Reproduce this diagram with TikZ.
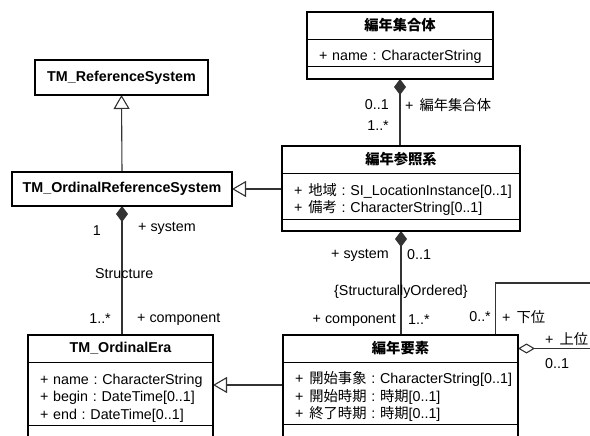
\documentclass[tikz,border=0pt]{standalone}
\usepackage{fontspec}
\setmainfont{Liberation Sans}
\newfontfamily\jpfont{Noto Sans CJK JP}
\usepackage{tikz}
\usetikzlibrary{arrows.meta,positioning}

\frenchspacing
\newcommand{\umlsize}{\fontsize{14.3}{17.5}\selectfont}
\newcommand{\jp}[1]{{\jpfont #1}}
\newcommand{\pj}{+\hspace{6pt}}
\newcommand{\attr}[1]{\mbox{#1}}

\tikzset{
  box/.style={draw, line width=0.9pt, outer sep=0pt, inner sep=0pt, font=\umlsize},
  headbox/.style={box, font=\umlsize\bfseries, align=center},
  attrbox/.style={box, align=left, inner xsep=12pt, execute at begin node={\rule{0pt}{19pt}}},
  clsframe/.style={line width=2.2pt},
  lbl/.style={inner sep=0pt, font=\umlsize},
  con/.style={line width=1.1pt, black!80},
  comp/.style={con, {Diamond[length=16pt,width=12pt]}-},
  gen/.style={con, -{Triangle[open,length=14pt,width=16pt,fill=white]}},
  agg/.style={con, -{Diamond[open,length=17pt,width=10pt,fill=white]}}
}

\begin{document}
\begin{tikzpicture}[x=1pt, y=-1pt]
    \clip (0,0) rectangle (590,436);

    % 編年集合体
    \node[headbox, anchor=north west, minimum width=186pt, minimum height=27pt] (shugo) at (307,12) {\jp{編年集合体}};
    \node[attrbox, below=0pt of shugo, text width=162pt, minimum height=27pt] (shugo-a) {\attr{+ name : CharacterString}};
    \node[box, below=0pt of shugo-a, minimum width=186pt, minimum height=13pt] (shugo-o) {};

    % reference systems
    \node[headbox, anchor=north west, minimum width=173pt, minimum height=35pt] (refsys) at (35,60) {TM\_ReferenceSystem};
    \node[headbox, anchor=north west, minimum width=220pt, minimum height=34pt] (ordref) at (12,172) {TM\_OrdinalReferenceSystem};

    % 編年参照系
    \node[headbox, anchor=north west, minimum width=238pt, minimum height=27pt] (sansho) at (282,146) {\jp{編年参照系}};
    \node[attrbox, below=0pt of sansho, text width=214pt, minimum height=46pt] (sansho-a)
        {\attr{\pj\jp{地域} : SI\_LocationInstance[0..1]}\\ \attr{\pj\jp{備考} : CharacterString[0..1]}};
    \node[box, below=0pt of sansho-a, minimum width=238pt, minimum height=12pt] (sansho-o) {};

    % TM_OrdinalEra
    \node[headbox, anchor=north west, minimum width=185pt, minimum height=27pt] (era) at (28,335) {TM\_OrdinalEra};
    \node[attrbox, below=0pt of era, text width=161pt, minimum height=63pt] (era-a)
        {\attr{+ name : CharacterString}\\ \attr{+ begin : DateTime[0..1]}\\ \attr{+ end : DateTime[0..1]}};
    \node[box, below=0pt of era-a, minimum width=185pt, minimum height=30pt] (era-o) {};

    % 編年要素
    \node[headbox, anchor=north west, minimum width=235pt, minimum height=27pt] (yoso) at (283,335) {\jp{編年要素}};
    \node[attrbox, below=0pt of yoso, text width=211pt, minimum height=62pt] (yoso-a)
        {\attr{\pj\jp{開始事象} : CharacterString[0..1]}\\ \attr{\pj\jp{開始時期} : \jp{時期}[0..1]}\\ \attr{\pj\jp{終了時期} : \jp{時期}[0..1]}};
    \node[box, below=0pt of yoso-a, minimum width=235pt, minimum height=30pt] (yoso-o) {};

    % associations
    \draw[comp] (shugo-o.south) -- (shugo-o.south |- sansho.north);
    \draw[comp] (ordref.south) -- (ordref.south |- era.north);
    \draw[comp] (sansho-o.south) -- (sansho-o.south |- yoso.north);

    % generalizations
    \draw[gen] (ordref.north) -- (refsys.south);
    \draw[gen] (ordref.east -| sansho-a.west) -- (ordref.east);
    \draw[gen] ([yshift=8pt]yoso-a.west) -- ([yshift=8pt]yoso-a.west -| era-a.east);

    % 上位 / 下位 (runs off the page)
    \coordinate (loop) at (620,283);
    \draw[agg] ([xshift=95pt]yoso.north) |- (loop) |- (yoso.east);

    % thick class outlines
    \foreach \a/\b in {shugo/shugo-o, refsys/refsys, ordref/ordref, sansho/sansho-o, era/era-o, yoso/yoso-o}
        \draw[clsframe] (\a.north west) rectangle (\b.south east);

    % role names and multiplicities
    \node[lbl, anchor=east] (m-shugo) at (389,105) {0..1};
    \node[lbl, anchor=west] (r-shugo) at (405,105) {\pj\jp{編年集合体}};
    \node[lbl, anchor=east] (m-sansho) at (389,126) {1..*};

    \node[lbl, anchor=east] (m-ord1) at (101,231) {1};
    \node[lbl, anchor=west] (r-sys1) at (138,228) {+ system};
    \node[lbl, anchor=west] (a-struct) at (95,274) {Structure};
    \node[lbl, anchor=east] (m-ord2) at (111,319) {1..*};
    \node[lbl, anchor=west] (r-comp1) at (137,319) {+ component};

    \node[lbl, anchor=east] (r-sys2) at (389,255) {+ system};
    \node[lbl, anchor=west] (m-yoso1) at (407,255) {0..1};
    \node[lbl, anchor=west] (a-order) at (334,292) {\{StructurallyOrdered\}};
    \node[lbl, anchor=east] (r-comp2) at (396,320) {+ component};
    \node[lbl, anchor=west] (m-yoso2) at (408,320) {1..*};

    \node[lbl, anchor=east] (m-ka) at (491,317) {0..*};
    \node[lbl, anchor=west] (r-ka) at (502,317) {\pj\jp{下位}};
    \node[lbl, anchor=west] (r-jo) at (545,339) {\pj\jp{上位}};
    \node[lbl, anchor=west] (m-jo) at (545,364) {0..1};
\end{tikzpicture}
\end{document}
